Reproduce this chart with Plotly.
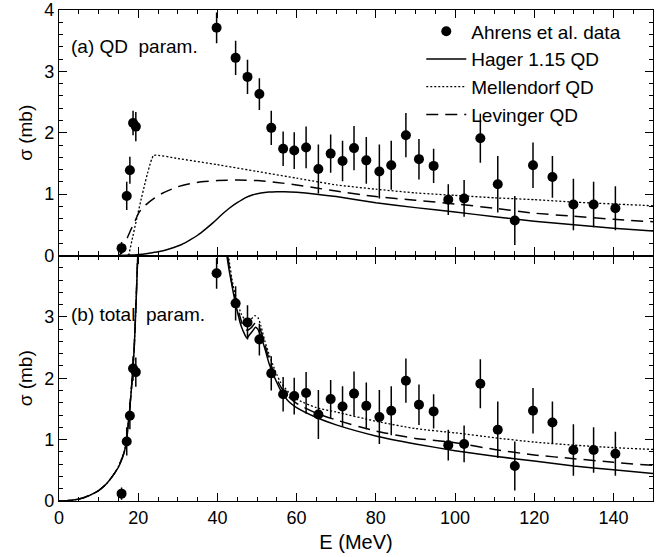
import plotly.graph_objects as go
from plotly.subplots import make_subplots

# ---- data ----
data_E = [15.8, 17.1, 17.9, 18.7, 19.4, 39.8, 44.6, 47.6, 50.6, 53.6, 56.6, 59.4, 62.4, 65.5,
          68.6, 71.6, 74.5, 77.6, 80.9, 83.9, 87.6, 90.9, 94.6, 98.3, 102.3, 106.4, 110.8,
          115.1, 119.7, 124.6, 129.9, 135.0, 140.5]
data_sig = [0.12, 0.97, 1.39, 2.16, 2.10, 3.71, 3.22, 2.91, 2.63, 2.08, 1.74, 1.71, 1.76, 1.41,
            1.66, 1.54, 1.75, 1.55, 1.37, 1.47, 1.96, 1.57, 1.46, 0.91, 0.93, 1.91, 1.16,
            0.57, 1.47, 1.28, 0.83, 0.83, 0.77]
data_err = [0.10, 0.23, 0.22, 0.20, 0.24, 0.25, 0.28, 0.28, 0.26, 0.28, 0.28, 0.30, 0.34, 0.40,
            0.31, 0.33, 0.36, 0.38, 0.44, 0.40, 0.36, 0.33, 0.28, 0.25, 0.30, 0.40, 0.46,
            0.40, 0.37, 0.34, 0.42, 0.37, 0.36]

# (a) QD parametrisations
hager_qd_E = [15, 17, 19, 21, 23, 25, 27, 29, 31, 33, 35, 37, 39, 41, 43, 45, 47, 49, 51, 53,
              55, 57, 60, 65, 70, 80, 90, 100, 110, 120, 130, 140, 150]
hager_qd_sig = [0.0, 0.005, 0.01, 0.02, 0.04, 0.06, 0.09, 0.13, 0.18, 0.25, 0.33, 0.43, 0.54,
                0.66, 0.77, 0.86, 0.94, 0.99, 1.02, 1.035, 1.04, 1.04, 1.03, 1.00, 0.96, 0.86,
                0.78, 0.71, 0.63, 0.56, 0.50, 0.445, 0.40]

mell_qd_E = [17.6, 23.9, 30, 40, 50, 60, 70, 80, 90, 100, 110, 120, 130, 140, 150]
mell_qd_sig = [0.0, 1.63, 1.58, 1.48, 1.37, 1.26, 1.15, 1.08, 1.02, 0.98, 0.94, 0.91, 0.87,
               0.84, 0.81]

lev_qd_E = [15.3, 16, 17, 18, 19, 20, 21, 22, 24, 26, 28, 30, 33, 36, 40, 45, 50, 55, 60, 65,
            70, 80, 90, 100, 110, 120, 130, 140, 150]
lev_qd_sig = [0.0, 0.1, 0.25, 0.40, 0.53, 0.68, 0.77, 0.83, 0.93, 1.01, 1.07, 1.12, 1.17, 1.20,
              1.22, 1.23, 1.22, 1.19, 1.15, 1.10, 1.05, 0.96, 0.90, 0.84, 0.77, 0.69, 0.64,
              0.59, 0.55]

# (b) total parametrisations (None = off scale, above 4 mb)
hager_tot_E = [0, 2, 4, 6, 8, 10, 12, 13, 14, 15, 16, 16.5, 17, 17.5, 18, 18.5, 19, 19.5, 20,
               20.3, None, 41.8, 42.4, 43, 44, 45, 46, 47, 47.5, 48, 49, 49.6, 50.2, 51, 52,
               53, 54, 55, 56, 57, 58, 60, 65, 70, 80, 90, 100, 110, 120, 130, 140, 150]
hager_tot_sig = [0, 0.005, 0.02, 0.05, 0.10, 0.17, 0.28, 0.36, 0.45, 0.55, 0.70, 0.80, 0.95,
                 1.25, 1.6, 2.0, 2.5, 3.3, 4.2, 4.6, None, 4.6, 4.0, 3.75, 3.4, 3.1, 2.85, 2.7,
                 2.65, 2.70, 2.78, 2.83, 2.80, 2.68, 2.48, 2.25, 2.08, 1.93, 1.80, 1.70, 1.62,
                 1.52, 1.36, 1.24, 1.06, 0.93, 0.82, 0.73, 0.65, 0.57, 0.51, 0.45]

mell_tot_E = [0, 2, 4, 6, 8, 10, 12, 13, 14, 15, 16, 16.5, 17, 17.5, 18, 18.5, 19, 19.5, 20,
              20.3, None, 42.2, 42.8, 44, 45, 46, 47, 47.7, 48.5, 49.5, 50.3, 51, 52, 53, 54,
              55, 56, 58, 60, 65, 70, 80, 90, 100, 110, 120, 130, 140, 150]
mell_tot_sig = [0, 0.005, 0.02, 0.05, 0.10, 0.17, 0.28, 0.36, 0.45, 0.56, 0.72, 0.82, 0.97,
                1.27, 1.62, 2.02, 2.52, 3.32, 4.2, 4.6, None, 4.6, 4.0, 3.5, 3.25, 3.05, 2.95,
                2.92, 2.96, 3.02, 2.98, 2.85, 2.6, 2.40, 2.22, 2.06, 1.93, 1.77, 1.66, 1.52,
                1.45, 1.30, 1.18, 1.11, 1.03, 0.96, 0.91, 0.87, 0.84]

lev_tot_E = [0, 2, 4, 6, 8, 10, 12, 13, 14, 15, 16, 16.5, 17, 17.5, 18, 18.5, 19, 19.5, 20,
             20.3, None, 42.0, 42.6, 43.5, 44.5, 45.5, 46.5, 47.5, 48.5, 49.6, 50.5, 51.3, 52,
             53, 54, 55, 56, 58, 60, 65, 70, 80, 90, 100, 110, 120, 130, 140, 150]
lev_tot_sig = [0, 0.005, 0.02, 0.05, 0.10, 0.17, 0.28, 0.36, 0.45, 0.56, 0.71, 0.81, 0.96,
               1.26, 1.61, 2.01, 2.51, 3.31, 4.2, 4.6, None, 4.6, 4.0, 3.6, 3.3, 3.05, 2.85,
               2.78, 2.82, 2.90, 2.85, 2.70, 2.55, 2.32, 2.14, 1.99, 1.86, 1.70, 1.59, 1.43,
               1.32, 1.14, 1.02, 0.95, 0.84, 0.75, 0.69, 0.63, 0.58]

x_ticks = [0, 20, 40, 60, 80, 100, 120, 140]
y_ticks_top = [0, 1, 2, 3, 4]
y_ticks_bot = [0, 1, 2, 3]

FONT = "Liberation Sans, Arial, sans-serif"

fig = make_subplots(rows=2, cols=1, shared_xaxes=True, vertical_spacing=0)

def add_panel(row, h, m, l, legend):
    fig.add_trace(go.Scatter(x=data_E, y=data_sig, mode="markers", name="Ahrens et al. data",
                             marker=dict(color="black", size=10),
                             error_y=dict(type="data", array=data_err, color="black",
                                          thickness=1.5, width=0),
                             showlegend=legend, cliponaxis=True), row=row, col=1)
    fig.add_trace(go.Scatter(x=h[0], y=h[1], mode="lines", name="Hager 1.15 QD",
                             line=dict(color="black", width=1.5, shape="spline", smoothing=0.6),
                             connectgaps=False, showlegend=legend), row=row, col=1)
    fig.add_trace(go.Scatter(x=m[0], y=m[1], mode="lines", name="Mellendorf QD",
                             line=dict(color="black", width=1.3, dash="2px,2px",
                                       shape="spline", smoothing=0.3 if row == 1 else 0.6),
                             connectgaps=False, showlegend=legend), row=row, col=1)
    fig.add_trace(go.Scatter(x=l[0], y=l[1], mode="lines", name="Levinger QD",
                             line=dict(color="black", width=1.5, dash="12px,7px",
                                       shape="spline", smoothing=0.6),
                             connectgaps=False, showlegend=legend), row=row, col=1)

add_panel(1, (hager_qd_E, hager_qd_sig), (mell_qd_E, mell_qd_sig), (lev_qd_E, lev_qd_sig), True)
add_panel(2, (hager_tot_E, hager_tot_sig), (mell_tot_E, mell_tot_sig), (lev_tot_E, lev_tot_sig), False)

axis_common = dict(showline=True, linecolor="black", linewidth=1.3, mirror="ticks",
                   ticks="inside", tickcolor="black", tickwidth=1.2, showgrid=False,
                   zeroline=False, automargin=False,
                   tickfont=dict(family=FONT, size=18, color="black"))

fig.update_xaxes(range=[0, 150], tickvals=x_ticks, ticklen=8,
                 minor=dict(ticks="inside", dtick=5, ticklen=4, tickcolor="black", tickwidth=1),
                 **axis_common)
fig.update_xaxes(showticklabels=False, row=1, col=1)
fig.update_xaxes(title=dict(text="E (MeV)", font=dict(family=FONT, size=20, color="black"),
                            standoff=8), row=2, col=1)

fig.update_yaxes(range=[0, 4], ticklen=8,
                 minor=dict(ticks="inside", dtick=0.2, ticklen=4, tickcolor="black", tickwidth=1),
                 title=dict(text="σ (mb)", font=dict(family=FONT, size=19, color="black"),
                            standoff=6),
                 **axis_common)
fig.update_yaxes(tickvals=y_ticks_top, row=1, col=1)
fig.update_yaxes(tickvals=y_ticks_bot, row=2, col=1)

fig.add_annotation(text="(a) QD  param.", xref="x domain", yref="y domain", x=0.017, y=0.85,
                   xanchor="left", yanchor="middle", showarrow=False,
                   font=dict(family=FONT, size=19, color="black"))
fig.add_annotation(text="(b) total  param.", xref="x2 domain", yref="y2 domain", x=0.017,
                   y=0.76, xanchor="left", yanchor="middle", showarrow=False,
                   font=dict(family=FONT, size=19, color="black"))

fig.update_layout(
    width=672, height=557,
    margin=dict(l=59, r=19, t=10, b=56),
    paper_bgcolor="white", plot_bgcolor="white",
    font=dict(family=FONT, size=18, color="black"),
    legend=dict(x=0.955, y=0.995, xanchor="right", yanchor="top",
                bgcolor="rgba(0,0,0,0)", borderwidth=0,
                font=dict(family=FONT, size=19, color="black"),
                tracegroupgap=0, itemwidth=40),
)

# remove the browser's default 8px body margin so the figure fills the window
fig.write_html("out.html", config={"displayModeBar": False},
               post_script="document.body.style.margin='0';document.body.style.overflow='hidden';")
